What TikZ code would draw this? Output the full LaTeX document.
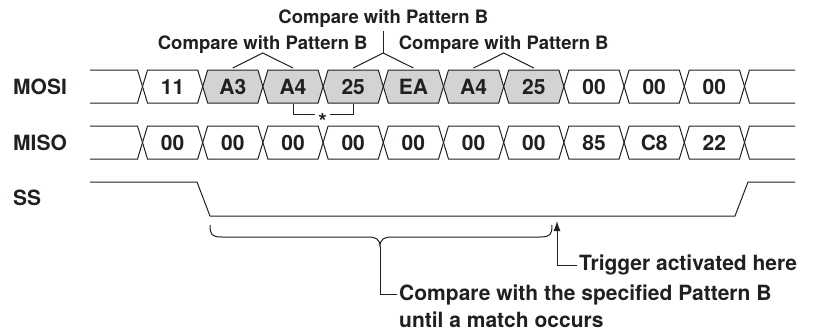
\documentclass[tikz,border=0pt]{standalone}
\usepackage{fontspec}
\setmainfont{TeX Gyre Heros}
\usetikzlibrary{arrows.meta}
\definecolor{ink}{HTML}{231F20}
\definecolor{cellgray}{HTML}{D1D3D4}
\tikzset{
  sig/.style={draw=ink, line width=1pt, line join=miter},
  conn/.style={draw=ink, line width=1pt},
  toplbl/.style={font=\fontsize{18.5}{22}\selectfont\bfseries, text=ink, inner sep=0pt, anchor=base},
  val/.style={font=\fontsize{21}{24}\selectfont\bfseries, text=ink, inner sep=0pt, anchor=base},
  signame/.style={font=\fontsize{21}{25}\selectfont\bfseries, text=ink, inner sep=0pt, anchor=base west},
  note/.style={font=\fontsize{21}{25}\selectfont\bfseries, text=ink, inner sep=0pt, anchor=base west},
  tip/.style={-{Latex[length=10pt,width=7pt]}},
}
\begin{document}
\begin{tikzpicture}[x=1pt,y=-1pt]
\useasboundingbox (0,0) rectangle (815,330);

% signal names
\node[signame] (nmosi) at (13,94.5) {MOSI};
\node[signame] (nmiso) at (13,150) {MISO};
\node[signame] (nss) at (13,205.5) {SS};

% MOSI bus
\draw[sig] (90,70) -- (137.5,70) -- (142.5,86.5) -- (137.5,103) -- (90,103);
\foreach \v/\f [count=\i from 0] in {11/white,A3/cellgray,A4/cellgray,25/cellgray,EA/cellgray,A4/cellgray,25/cellgray,00/white,00/white,00/white}{
  \pgfmathsetmacro\xa{142.5+60.2*\i}
  \pgfmathsetmacro\xb{\xa+60.2}
  \pgfmathsetmacro\xm{\xa+30.1}
  \draw[sig, fill=\f] (\xa,86.5) -- (\xa+5,70) -- (\xb-5,70) -- (\xb,86.5) -- (\xb-5,103) -- (\xa+5,103) -- cycle;
  \node[val] (mosi\i) at (\xm,94) {\v};
  \coordinate (mt\i) at (\xm,68);
  \coordinate (mb\i) at (\xm,104);
}
\draw[sig] (795,70) -- (749.5,70) -- (744.5,86.5) -- (749.5,103) -- (795,103);

% MISO bus
\draw[sig] (90,126) -- (137.5,126) -- (142.5,142.5) -- (137.5,159) -- (90,159);
\foreach \v [count=\i from 0] in {00,00,00,00,00,00,00,85,C8,22}{
  \pgfmathsetmacro\xa{142.5+60.2*\i}
  \pgfmathsetmacro\xb{\xa+60.2}
  \pgfmathsetmacro\xm{\xa+30.1}
  \draw[sig, fill=white] (\xa,142.5) -- (\xa+5,126) -- (\xb-5,126) -- (\xb,142.5) -- (\xb-5,159) -- (\xa+5,159) -- cycle;
  \node[val] (miso\i) at (\xm,150) {\v};
}
\draw[sig] (795,126) -- (749.5,126) -- (744.5,142.5) -- (749.5,159) -- (795,159);

% SS
\draw[sig] (90,182) -- (197,182) -- (210,216) -- (735,216) -- (748,182) -- (795,182);

% top labels
\node[toplbl] (topM) at (383.3,23.8) {Compare with Pattern B};
\node[toplbl] (topL) at (262.7,49.5) {Compare with Pattern B};
\node[toplbl] (topR) at (503.7,49.5) {Compare with Pattern B};
\coordinate (apL) at (262.7,53);
\coordinate (apM) at (383.3,53);
\coordinate (apR) at (503.7,53);
\draw[conn] (mt1) -- (apL) -- (mt2);
\draw[conn] (mt3) -- (apM) -- (mt4);
\draw[conn] (apM) -- (383.3,31);
\draw[conn] (mt5) -- (apR) -- (mt6);

% star bracket
\node[font=\fontsize{22}{24}\selectfont\bfseries, text=ink, inner sep=0pt, anchor=base] (star) at (322.6,129) {*};
\coordinate (starL) at (315,114.5);
\coordinate (starR) at (330,114.5);
\draw[conn] (mb2) |- (starL);
\draw[conn] (mb3) |- (starR);

% brace
\coordinate (brtip) at (380,247);
\draw[conn] (210,225) .. controls (210,235) and (212,237) .. (222,237) -- (368,237)
  .. controls (376,237) and (380,239) .. (brtip)
  .. controls (380,239) and (384,237) .. (392,237) -- (540,237)
  .. controls (550,237) and (552,235) .. (552,225);
\node[note] (cmp1) at (399,300.5) {Compare with the specified Pattern B};
\node[note] (cmp2) at (399,327) {until a match occurs};
\draw[conn] (brtip) |- ([xshift=-2pt]cmp1.west);

% trigger
\node[note, anchor=west] (trig) at (579,265) {Trigger activated here};
\coordinate (trigtip) at (557,221);
\draw[conn, tip] ([xshift=-2pt]trig.west) -| (trigtip);
\end{tikzpicture}
\end{document}
